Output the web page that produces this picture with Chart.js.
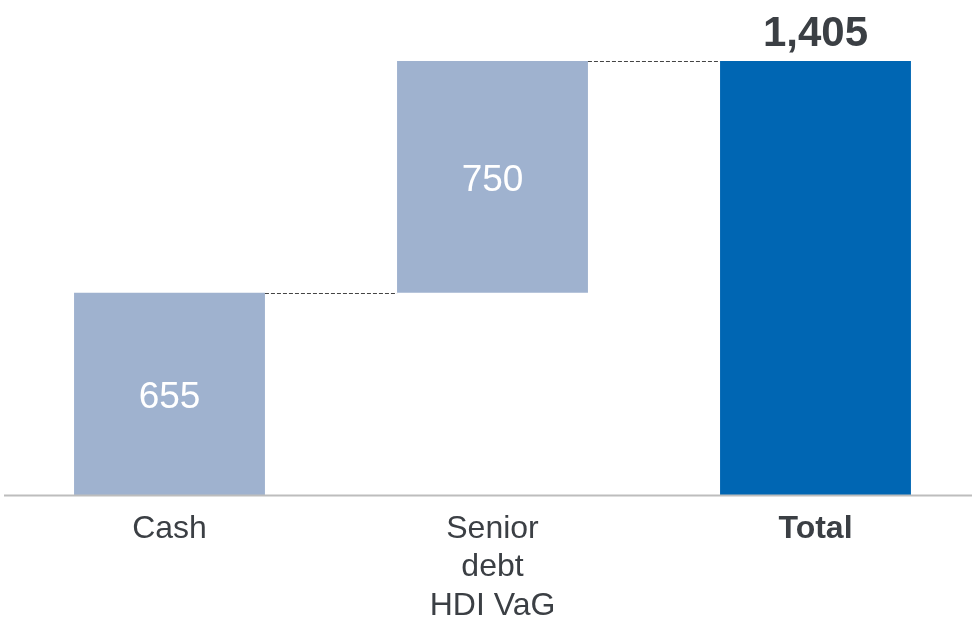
<!DOCTYPE html>
<html>
<head>
<meta charset="utf-8">
<script src="https://cdn.jsdelivr.net/npm/chart.js@4"></script>
<style>
  html, body { margin: 0; padding: 0; background: #fff; overflow: hidden; }
  #wrap { width: 985px; height: 620px; }
</style>
</head>
<body>
<div id="wrap"><canvas id="myChart"></canvas></div>
<script>
// waterfall data
const categorias = [['Cash'], ['Senior', 'debt', 'HDI VaG'], ['Total']];
const inicios = [0, 655, 0];
const valores = [655, 750, 1405];
const finales = [655, 1405, 1405];
const etiquetas = ['655', '750', '1,405'];
const colores = ['#9fb2cf', '#9fb2cf', '#0066b3'];

const textoColor = '#3b3f44';
const fuente = '"Liberation Sans", Arial, sans-serif';

// dashed connectors, value labels and baseline
const extras = {
    id: 'extras',
    afterDraw(chart) {
        const ctx = chart.ctx;
        const meta = chart.getDatasetMeta(0);
        const y = chart.scales.y;

        ctx.save();
        // connectors
        ctx.strokeStyle = '#444';
        ctx.lineWidth = 1;
        ctx.setLineDash([4, 2]);
        for (let i = 0; i < meta.data.length - 1; i++) {
            const a = meta.data[i], b = meta.data[i + 1];
            const yy = Math.round(y.getPixelForValue(finales[i])) + 0.5;
            ctx.beginPath();
            ctx.moveTo(a.x + a.width / 2, yy);
            ctx.lineTo(b.x - b.width / 2, yy);
            ctx.stroke();
        }
        ctx.setLineDash([]);

        // baseline
        const y0 = Math.round(y.getPixelForValue(0)) + 0.5;
        ctx.strokeStyle = '#bdbdbd';
        ctx.lineWidth = 2;
        ctx.beginPath();
        ctx.moveTo(4, y0);
        ctx.lineTo(chart.width, y0);
        ctx.stroke();

        // labels
        ctx.textAlign = 'center';
        ctx.textBaseline = 'middle';
        meta.data.forEach((bar, i) => {
            if (i === meta.data.length - 1) {
                ctx.fillStyle = textoColor;
                ctx.font = 'bold 42px ' + fuente;
                ctx.fillText(etiquetas[i], bar.x, y.getPixelForValue(finales[i]) - 27);
            } else {
                ctx.fillStyle = '#ffffff';
                ctx.font = '37px ' + fuente;
                const mid = (y.getPixelForValue(inicios[i]) + y.getPixelForValue(finales[i])) / 2;
                ctx.fillText(etiquetas[i], bar.x, mid + 4);
            }
        });
        ctx.restore();
    }
};

const ctx = document.getElementById('myChart').getContext('2d');
const myChart = new Chart(ctx, {
    type: 'bar',
    data: {
        labels: categorias,
        datasets: [{
            data: inicios.map((s, i) => [s, finales[i]]),
            backgroundColor: colores,
            borderWidth: 0,
            categoryPercentage: 1,
            barPercentage: 0.591
        }]
    },
    options: {
        responsive: true,
        maintainAspectRatio: false,
        animation: false,
        layout: { padding: { left: 8, right: 8, top: 61, bottom: 0 } },
        plugins: {
            legend: { display: false },
            tooltip: { enabled: false }
        },
        scales: {
            x: {
                grid: { display: false, drawTicks: false },
                border: { display: false },
                ticks: {
                    color: textoColor,
                    padding: 15,
                    maxRotation: 0,
                    autoSkip: false,
                    font: c => ({
                        family: fuente,
                        size: 32,
                        weight: c.index === 2 ? 'bold' : 'normal',
                        lineHeight: 1.2
                    })
                },
                afterFit: s => { s.height = 125; }
            },
            y: {
                display: false,
                min: 0,
                max: 1405
            }
        }
    },
    plugins: [extras]
});
</script>
</body>
</html>
